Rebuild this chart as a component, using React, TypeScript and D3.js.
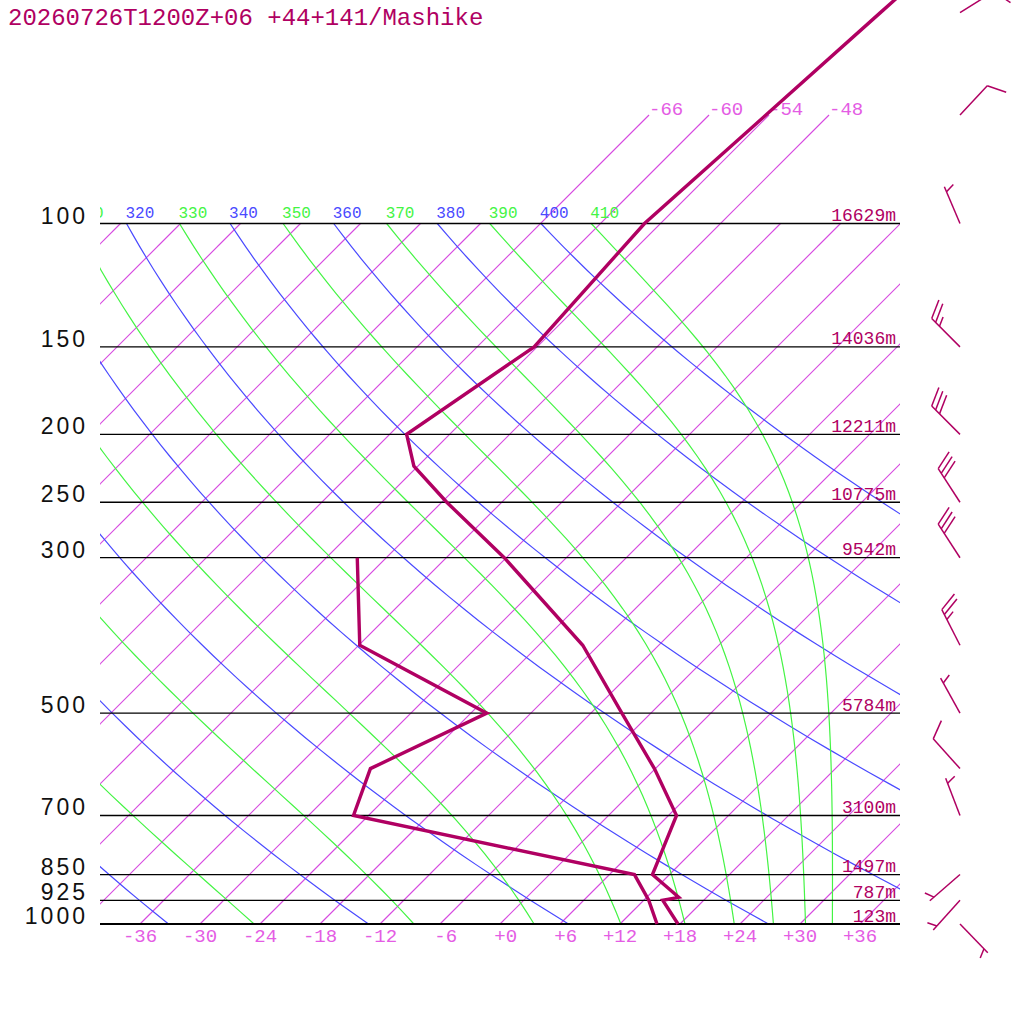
import * as d3 from "d3";
import { useEffect, useRef } from "react";

// sounding: temperature (°C) at pressure levels (hPa)
const tempLevels = [1000, 925, 916, 850, 700, 600, 500, 400, 300, 250, 222, 200, 150, 100, 50, 30];
const tempValues = [17.8, 13.9, 15.2, 10.3, 6.8, -0.1, -8.9, -19.6, -36.2, -47.5, -54.4, -58.3, -54.3, -55.6, -53.1, -51.2];

// dew point (°C)
const dewLevels = [1000, 925, 850, 700, 600, 500, 400, 300];
const dewValues = [15.7, 12.5, 8.5, -25.5, -28.5, -22.4, -41.9, -50.9];

// wind: direction (deg, from) and speed (kt)
const windLevels = [1000, 925, 850, 700, 600, 500, 400, 300, 250, 200, 150, 100, 70, 50];
const windDirs = [136, 222, 229, 339, 318, 331, 333, 327, 327, 315, 315, 337, 43, 58];
const windSpeeds = [5, 5, 5, 5, 10, 5, 25, 30, 30, 30, 25, 5, 10, 10];

// isobars + geopotential heights
const isobars = [1000, 925, 850, 700, 500, 300, 250, 200, 150, 100];
const heightLabels = ["123m", "787m", "1497m", "3100m", "5784m", "9542m", "10775m", "12211m", "14036m", "16629m"];

const tempTicks = [-36, -30, -24, -18, -12, -6, 0, 6, 12, 18, 24, 30, 36];
const isothermLabelled = [-66, -60, -54, -48];
const dryThetas = [240, 260, 280, 300, 320, 340, 360, 380, 400];
const moistThetas = [250, 270, 290, 310, 330, 350, 370, 390, 410];

const title = "20260726T1200Z+06 +44+141/Mashike";

const DARK = "rgb(176,0,98)";
const ISO = "rgb(214,74,224)";
const ISO_TXT = "rgb(228,92,228)";
const BLUE = "rgb(74,74,255)";
const GREEN = "rgb(68,244,68)";
const MONO = "'Liberation Mono', monospace";

function thetaE(Tk: number, p: number) {
    const Tc = Tk - 273.15;
    const es = 6.112 * Math.exp((17.67 * Tc) / (Tc + 243.5));
    if (es > 0.8 * p) return Infinity;
    const r = (0.622 * es) / (p - es);
    return Tk * Math.pow(1000 / p, 0.2854 * (1 - 0.28 * r)) *
        Math.exp((3.376 / Tk - 0.00254) * r * 1000 * (1 + 0.81 * r));
}

function moistT(theta: number, p: number) {
    let lo = 120, hi = 330;
    for (let i = 0; i < 60; i++) {
        const mid = (lo + hi) / 2;
        if (thetaE(mid, p) > theta) hi = mid; else lo = mid;
    }
    return (lo + hi) / 2 - 273.15;
}

export default function App() {
    const ref = useRef<SVGSVGElement | null>(null);

    useEffect(() => {
        if (!ref.current) return;
        const svg = d3.select(ref.current);
        svg.selectAll("*").remove();

        const y = d3.scaleLog().domain([1000, 100]).range([924, 223.5]);
        const t = d3.scaleLinear().domain([-36, 36]).range([140, 860]);
        const sx = (T: number, p: number) => t(T) + (y(1000) - y(p));

        const defs = svg.append("defs");
        defs.append("clipPath").attr("id", "plot")
            .append("rect").attr("x", 100).attr("y", -300).attr("width", 800).attr("height", 1224.5);

        const plot = svg.append("g").attr("clip-path", "url(#plot)");
        const path = d3.line<[number, number]>().x(d => d[0]).y(d => d[1]);
        const logPs = (top: number) => d3.range(0, 61).map(i => 1000 * Math.pow(top / 1000, i / 60));

        // isotherms
        const isoG = plot.append("g").style("fill", "none");
        for (let T = -120; T <= 36; T += 6) {
            const top = isothermLabelled.includes(T) ? 70 : 100;
            isoG.append("path")
                .attr("d", path([[sx(T, 1000), y(1000)], [sx(T, top), y(top)]])!)
                .style("stroke", ISO).style("stroke-width", "1.15px");
        }
        isothermLabelled.forEach(T => {
            svg.append("text")
                .attr("x", sx(T, 70)).attr("y", y(70))
                .attr("font-family", MONO).attr("font-size", 19)
                .style("fill", ISO_TXT).text(String(T));
        });

        // dry adiabats
        dryThetas.forEach(th => {
            const pts = logPs(100).map(p => [sx(th * Math.pow(p / 1000, 0.2857) - 273.15, p), y(p)] as [number, number]);
            plot.append("path").attr("d", path(pts)!)
                .style("fill", "none").style("stroke", BLUE).style("stroke-width", "1.2px");
        });

        // moist adiabats
        moistThetas.forEach(th => {
            const pts = logPs(100).map(p => [sx(moistT(th, p), p), y(p)] as [number, number]);
            plot.append("path").attr("d", path(pts)!)
                .style("fill", "none").style("stroke", GREEN).style("stroke-width", "1.2px");
        });

        // adiabat labels at 100 hPa (only the part right of the plot edge shows)
        const lcw = 16 * 0.6;
        const labels = plot.append("g");
        [...dryThetas.map(th => ({ th, c: BLUE, T: th * Math.pow(0.1, 0.2857) - 273.15 })),
         ...moistThetas.map(th => ({ th, c: GREEN, T: moistT(th, 100) }))]
            .forEach(d => {
                const x0 = sx(d.T, 100) - 1;
                const txt = String(d.th);
                let skip = 0;
                while (skip < txt.length && x0 + (skip + 1) * lcw < 100) skip++;
                if (skip >= txt.length) return;
                labels.append("text")
                    .attr("x", x0 + skip * lcw).attr("y", 218)
                    .attr("font-family", MONO).attr("font-size", 16)
                    .style("fill", d.c).text(txt.slice(skip));
            });

        // isobars
        isobars.forEach((p, i) => {
            svg.append("line")
                .attr("x1", 100).attr("x2", 900).attr("y1", y(p)).attr("y2", y(p))
                .style("stroke", "#000").style("stroke-width", p === 1000 ? "1.8px" : "1.3px");
            svg.append("text")
                .attr("x", 88).attr("y", y(p))
                .attr("text-anchor", "end")
                .attr("font-family", "'Liberation Sans', sans-serif").attr("font-size", 23)
                .attr("letter-spacing", 3).style("fill", "#111").text(String(p));
            svg.append("text")
                .attr("x", 896).attr("y", y(p) - 2.5)
                .attr("text-anchor", "end")
                .attr("font-family", MONO).attr("font-size", 18)
                .style("fill", DARK).text(heightLabels[i]);
        });

        // temperature ticks
        const cw = 19 * 0.6;
        tempTicks.forEach(T => {
            svg.append("text")
                .attr("x", t(T) + 1.5 * cw).attr("y", 942)
                .attr("text-anchor", "end")
                .attr("font-family", MONO).attr("font-size", 19)
                .style("fill", ISO_TXT).text(T > 0 ? `+${T}` : T === 0 ? "+0" : String(T));
        });

        // traces
        const tempPts = tempLevels.map((p, i) => [sx(tempValues[i], p), y(p)] as [number, number]);
        const dewPts = dewLevels.map((p, i) => [sx(dewValues[i], p), y(p)] as [number, number]);
        [tempPts, dewPts].forEach(pts => {
            svg.append("path").attr("d", path(pts)!)
                .style("fill", "none").style("stroke", DARK).style("stroke-width", "3.4px")
                .style("stroke-linejoin", "miter");
        });

        // wind barbs
        const L = 40, gap = 5.5, rot = 66 * Math.PI / 180;
        windLevels.forEach((p, i) => {
            const bx = 960, by = y(p);
            const d = windDirs[i] * Math.PI / 180;
            const ux = Math.sin(d), uy = -Math.cos(d);
            const tx = bx + L * ux, ty = by + L * uy;
            const g = svg.append("g").style("stroke", DARK).style("stroke-width", "1.5px").style("fill", "none");
            g.append("line").attr("x1", bx).attr("y1", by).attr("x2", tx).attr("y2", ty);
            const a = Math.atan2(uy, ux) + rot;
            const vx = Math.cos(a), vy = Math.sin(a);
            const s = windSpeeds[i];
            const full = Math.floor(s / 10);
            const half = Math.round((s - full * 10) / 5);
            let k = full === 0 ? 1 : 0;
            for (let j = 0; j < full; j++, k++) {
                const px = tx - ux * gap * k, py = ty - uy * gap * k;
                g.append("line").attr("x1", px).attr("y1", py).attr("x2", px + vx * 20).attr("y2", py + vy * 20);
            }
            for (let j = 0; j < half; j++, k++) {
                const px = tx - ux * gap * k, py = ty - uy * gap * k;
                g.append("line").attr("x1", px).attr("y1", py).attr("x2", px + vx * 10).attr("y2", py + vy * 10);
            }
        });

        // title
        svg.append("text")
            .attr("x", 8).attr("y", 25)
            .attr("font-family", MONO).attr("font-size", 24)
            .style("fill", DARK).text(title);
    }, []);

    return (
        <div style={{ position: "absolute", left: 0, top: 0 }}>
            <svg ref={ref} width={1024} height={1024} style={{ display: "block", background: "#fff" }} />
        </div>
    );
}
